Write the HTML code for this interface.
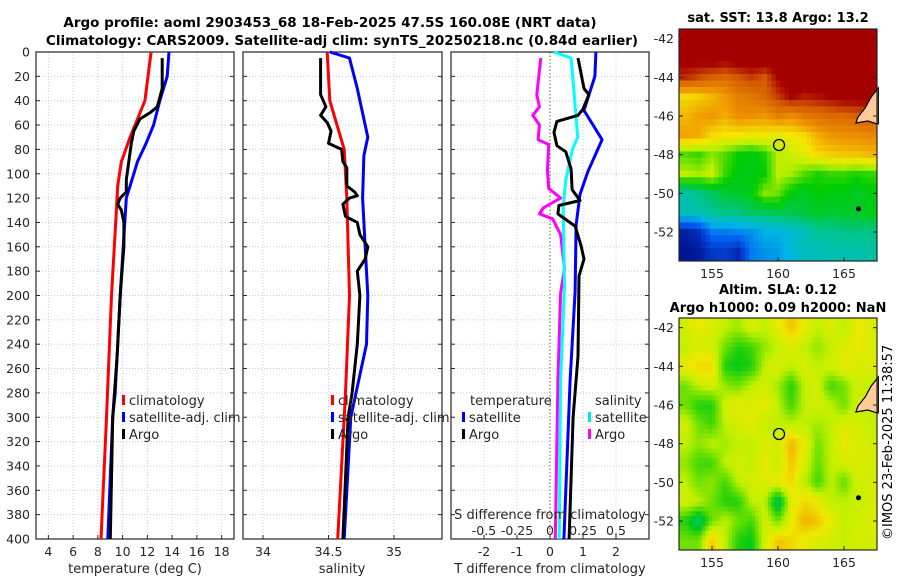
<!DOCTYPE html>
<html><head><meta charset="utf-8"><style>
body{margin:0;background:#fff}
svg{display:block;font-family:"DejaVu Sans","Liberation Sans",sans-serif;fill:#262626}
</style></head><body>
<svg id="c" width="900" height="580" viewBox="0 0 900 580" xmlns="http://www.w3.org/2000/svg">
<text x="330" y="27" text-anchor="middle" font-weight="bold" font-size="13.5" fill="#000">Argo profile: aoml 2903453_68 18-Feb-2025 47.5S 160.08E (NRT data)</text>
<text x="342" y="45" text-anchor="middle" font-weight="bold" font-size="13.5" fill="#000">Climatology: CARS2009. Satellite-adj clim: synTS_20250218.nc (0.84d earlier)</text>
<text x="778" y="22" text-anchor="middle" font-weight="bold" font-size="13" fill="#000">sat. SST: 13.8 Argo: 13.2</text>
<text x="778" y="294" text-anchor="middle" font-weight="bold" font-size="13" fill="#000">Altim. SLA: 0.12</text>
<text x="778" y="312" text-anchor="middle" font-weight="bold" font-size="13" fill="#000">Argo h1000: 0.09 h2000: NaN</text>
<text transform="translate(892,540) rotate(-90)" font-size="13" fill="#000">©IMOS 23-Feb-2025 11:38:57</text>
<g id="g"></g>
</svg>
<script>
// ---------- profile data ----------
const tClimDepth = [0,20,40,55,70,90,110,130,200,300,400];
const tClimVal   = [12.3,12.05,11.8,11.2,10.6,9.9,9.6,9.5,9.1,8.7,8.25];
const tSatDepth  = [0,20,40,60,75,90,110,120,200,280,300,400];
const tSatVal    = [13.75,13.6,13.0,12.5,11.9,11.2,10.6,10.3,9.8,9.4,9.2,8.8];
const tArgoDepth = [5,30,45,50,55,65,75,90,105,115,120,125,130,140,160,180,200,250,300,400];
const tArgoVal   = [13.2,13.2,12.8,12.2,11.4,10.9,10.7,10.5,10.3,10.3,9.8,9.6,9.9,10.1,10.1,9.95,9.8,9.55,9.2,9.0];

const sClimDepth = [0,40,80,120,200,280,400];
const sClimVal   = [34.49,34.51,34.62,34.64,34.66,34.63,34.57];
const sSatDepth  = [0,5,30,70,85,120,160,200,240,280,300,400];
const sSatVal    = [34.51,34.66,34.72,34.80,34.77,34.76,34.78,34.80,34.79,34.71,34.67,34.62];
const sArgoDepth = [5,35,40,45,52,58,65,75,78,80,90,95,110,115,118,120,125,135,140,150,160,170,180,200,240,280,300,400];
const sArgoVal   = [34.44,34.44,34.46,34.48,34.44,34.49,34.52,34.50,34.56,34.60,34.61,34.64,34.64,34.70,34.72,34.66,34.61,34.63,34.72,34.74,34.80,34.78,34.72,34.74,34.72,34.68,34.65,34.61];

const dTSatDepth = [0,20,48,72,98,117,142,197,270,400];
const dTSatVal   = [1.39,1.36,1.03,1.58,1.15,0.91,0.79,0.76,0.61,0.42];
const dTArgoDepth= [5,30,35,47,52,57,66,77,82,96,113,122,126,133,143,159,170,184,250,300,400];
const dTArgoVal  = [0.85,1.03,1.18,1.0,0.85,0.21,0.12,0.21,0.48,0.64,0.67,0.91,0.27,0.24,0.76,0.94,1.03,0.88,0.85,0.7,0.58];
const dSSatDepth = [0,5,31,70,80,105,127,193,270,400];
const dSSatVal   = [0.03,0.16,0.18,0.21,0.17,0.12,0.10,0.11,0.08,0.07];
const dSArgoDepth= [5,35,45,52,60,72,76,97,112,120,128,133,137,150,178,198,270,400];
const dSArgoVal  = [-0.07,-0.10,-0.08,-0.13,-0.08,-0.09,-0.01,-0.02,-0.01,0.08,-0.05,-0.08,0.02,0.08,0.11,0.08,0.06,0.04];

const depthTicks = [0,20,40,60,80,100,120,140,160,180,200,220,240,260,280,300,320,340,360,380,400];
const tTicks = [4,6,8,10,12,14,16,18];
const sTicks = [34,34.5,35];
const dTTicks = [-2,-1,0,1,2];
const dSTicks = [-0.5,-0.25,0,0.25,0.5];
const dSTickLabels = ["-0.5","-0.25","0","0.25","0.5"];

// ---------- map data ----------
const mapLonTicks = [155,160,165];
const mapLatTicks = [-42,-44,-46,-48,-50,-52];
const sstGrid = [
 [16,16,16,16,16,16,16,16,16,16,16,16,16,16,16],
 [15.8,15.8,15.9,15.8,15.9,16,15.9,16,16,16,16,16,16,16,16],
 [15.3,15.1,14.9,14.8,15,15.2,15,15.6,15.8,15.9,16,16,16,16,16],
 [13.6,13.7,13.9,14.2,14.5,14.6,14.8,15.2,15.6,15.4,15.5,15.6,15.8,15.8,15.8],
 [13.9,14.1,14.2,14.0,14.3,14.3,14.2,14.5,14.3,14.6,14.7,14.8,14.8,14.9,15],
 [14.1,14.0,13.6,13.5,13.5,13.4,13.5,13.3,13.5,13.6,14.0,14.2,14.3,14.3,14.4],
 [12.6,12.5,12.8,12.6,12.3,12.2,12.4,13.0,13.1,13.3,13.6,13.7,13.8,13.8,13.9],
 [13.0,12.9,13.1,12.5,12.2,12.2,12.3,13.0,12.9,12.6,12.4,12.5,12.5,12.4,12.5],
 [11.4,11.6,11.8,12.0,12.1,12.2,12.8,12.7,12.2,12.1,12.3,12.2,12.2,12.1,12.2],
 [11.2,11.3,11.5,11.6,11.6,11.8,11.8,11.9,11.9,12.0,12.1,12.0,12.1,12.1,12.2],
 [9.2,9.4,10.3,10.3,10.4,10.5,10.8,10.8,11.0,11.2,11.5,11.5,11.6,11.6,11.6],
 [9.0,9.1,9.5,9.6,9.3,10.3,10.5,10.6,10.9,11.2,11.2,11.3,11.3,11.3,11.4]
];
const slaGrid = [
 [0.02,0.05,0.03,0.0,-0.02,0.03,0.0,0.05,0.1,0.05,0.0,0.03,0.0,0.05,0.03],
 [0.0,0.03,0.02,-0.05,-0.1,-0.08,-0.03,0.0,0.03,0.0,-0.03,0.0,0.03,0.05,0.03],
 [0.05,0.08,0.08,-0.1,-0.12,-0.1,0.0,0.03,0.0,0.03,0.0,0.02,0.05,0.03,0.03],
 [-0.05,0.0,0.02,-0.03,-0.05,0.0,0.02,-0.02,-0.1,0.0,0.02,-0.08,-0.05,0.02,0.0],
 [-0.05,-0.1,-0.1,0.02,0.05,0.03,0.05,0.0,-0.08,0.0,0.02,0.0,-0.05,0.02,0.0],
 [0.02,-0.05,-0.08,0.0,0.02,0.05,0.0,0.0,0.0,0.0,-0.02,0.0,0.03,0.02,0.0],
 [0.0,-0.03,0.0,-0.02,0.0,0.0,0.03,0.02,0.12,0.05,-0.05,0.0,0.05,0.03,0.02],
 [-0.03,-0.08,-0.08,0.0,0.02,0.0,0.05,0.0,0.1,0.03,-0.06,0.0,0.02,0.03,0.02],
 [0.0,-0.05,-0.03,-0.08,0.0,0.02,0.03,0.05,0.08,0.0,-0.08,0.0,-0.06,0.02,0.02],
 [0.02,0.0,-0.05,-0.1,-0.1,0.0,0.0,-0.18,0.03,0.08,0.05,0.0,0.0,0.0,0.02],
 [-0.1,-0.18,-0.05,0.0,-0.05,-0.08,0.02,-0.05,0.05,0.12,0.1,0.05,0.0,0.02,0.03],
 [-0.05,-0.05,0.1,0.0,-0.1,-0.12,0.02,0.1,0.08,0.05,0.03,0.02,0.0,0.02,0.02]
];
const landLon = [167.6,167.05,166.6,166.06,165.9,166.36,166.8,167.5,167.6];
const landLat = [-44.55,-45.02,-45.59,-46.05,-46.36,-46.31,-46.26,-46.41,-46.41];
const argoLon = [160.08];
const argoLat = [-47.5];

// ---------- drawing ----------
const NS='http://www.w3.org/2000/svg';
const G=document.getElementById('g');
function el(tag,attrs,parent){const e=document.createElementNS(NS,tag);for(const k in attrs)e.setAttribute(k,attrs[k]);(parent||G).appendChild(e);return e;}
const yTop=52,yBot=539;
const yD=d=>yTop+d*(yBot-yTop)/400;
const panels=[
 {name:'temperature',x0:36,x1:234,v0:3,v1:19},
 {name:'salinity',x0:243,x1:442,v0:34-20/131,v1:34+179/131},
 {name:'difference',x0:451,x1:649,v0:-3,v1:3}
];
const xs=p=>v=>p.x0+(v-p.v0)*(p.x1-p.x0)/(p.v1-p.v0);
const grid='#c4cbe6';
panels.forEach((p,i)=>{
  const X=xs(p);
  const ticks=i==0?tTicks:i==1?sTicks:dTTicks;
  ticks.forEach(t=>{
    const l=el('line',{x1:X(t),x2:X(t),y1:yTop,y2:yBot,stroke:(i==2&&t==0)?'#556b2f':grid,'stroke-dasharray':(i==2&&t==0)?'1.5,2':'1,2','stroke-width':1});
    
    
    const tk=el('line',{x1:X(t),x2:X(t),y1:yBot,y2:yBot-4,stroke:'#262626'});
    
    
    const lb=el('text',{x:X(t),y:556,'text-anchor':'middle','font-size':12.5});
    lb.textContent=(i==1&&t==34.5)?'34.5':String(t);
    
    
  });
  depthTicks.forEach(d=>{
    const y=yD(d);
    if(d>0&&d<400){const l=el('line',{x1:p.x0,x2:p.x1,y1:y,y2:y,stroke:grid,'stroke-dasharray':'1,2'});
    
    }
    el('line',{x1:p.x0,x2:p.x0+4,y1:y,y2:y,stroke:'#262626'});
    el('line',{x1:p.x1,x2:p.x1-4,y1:y,y2:y,stroke:'#262626'});
    if(i==0){const lb=el('text',{x:30,y:y+4.5,'text-anchor':'end','font-size':12.5});lb.textContent=d;
    
    }
  });
  const r=el('rect',{x:p.x0,y:yTop,width:p.x1-p.x0,height:yBot-yTop,fill:'none',stroke:'#262626','stroke-width':1.2});
  
  
});
function line(pi,depths,vals,color,name,scale){
  const X=xs(panels[pi]);
  const pts=depths.map((d,k)=>X(vals[k]*(scale||1)).toFixed(1)+','+yD(d).toFixed(1)).join(' ');
  const l=el('polyline',{points:pts,fill:'none',stroke:color,'stroke-width':3,'stroke-linejoin':'round'});
  
  
}
line(0,tClimDepth,tClimVal,'#ff0000','temp-climatology-line');
line(0,tSatDepth,tSatVal,'#0000ff','temp-satellite-line');
line(0,tArgoDepth,tArgoVal,'#000','temp-argo-line');
line(1,sClimDepth,sClimVal,'#ff0000','sal-climatology-line');
line(1,sSatDepth,sSatVal,'#0000ff','sal-satellite-line');
line(1,sArgoDepth,sArgoVal,'#000','sal-argo-line');
line(2,dSArgoDepth,dSArgoVal,'#ff00ff','sdiff-argo-line',4);
line(2,dSSatDepth,dSSatVal,'#00ffff','sdiff-satellite-line',4);
line(2,dTSatDepth,dTSatVal,'#0000ff','tdiff-satellite-line');
line(2,dTArgoDepth,dTArgoVal,'#000','tdiff-argo-line');

const X3=xs(panels[2]);
dSTicks.forEach((s,k)=>{
  const lb=el('text',{x:X3(s*4),y:535,'text-anchor':'middle','font-size':12.5});
  lb.textContent=dSTickLabels[k];
  
  
});
function txt(x,y,s,name,anchor,size){const t=el('text',{x:x,y:y,'text-anchor':anchor||'start','font-size':size||13});t.textContent=s;
  
  return t;}
txt(550,519,'S difference from climatology','s-diff-axis-title','middle');
txt(135,573,'temperature (deg C)','temp-axis-title','middle');
txt(342,573,'salinity','salinity-axis-title','middle');
txt(550,573,'T difference from climatology','t-diff-axis-title','middle');
function leg(x,y,color,label,name){
  const b=el('rect',{x:x,y:y-10,width:3,height:10,fill:color});
  
  
  txt(x+7,y,label,name,'start',13);
}
[[122,0],[331,1]].forEach(([x])=>{
  leg(x,405,'#ff0000','climatology','legend-climatology');
  leg(x,422,'#0000ff','satellite-adj. clim','legend-satellite-adj');
  leg(x,439,'#000','Argo','legend-argo');
});
txt(470,405,'temperature','legend-temperature-header');
leg(462,422,'#0000ff','satellite','legend-t-satellite');
leg(462,439,'#000','Argo','legend-t-argo');
txt(595,405,'salinity','legend-salinity-header');
leg(588,422,'#00e5e5','satellite','legend-s-satellite');
leg(588,439,'#ff00ff','Argo','legend-s-argo');

// ---------- maps ----------
function stopCol(stops,v){
  for(let k=0;k<stops.length-1;k++){const [a,ca]=stops[k],[b,cb]=stops[k+1];
    if(v<=b||k==stops.length-2){const t=Math.max(0,Math.min(1,(v-a)/(b-a)));
      return 'rgb('+ca.map((c,j)=>Math.round(c+(cb[j]-c)*t)).join(',')+')';}}
}
const sstStops=[[9,[0,20,150]],[10,[0,90,240]],[10.8,[0,180,230]],[11.5,[0,195,150]],[12.3,[0,205,0]],[13,[190,240,0]],[13.5,[245,230,0]],[14.2,[240,150,0]],[15,[210,90,0]],[15.6,[165,0,0]]];
const slaStops=[[-0.2,[0,200,190]],[-0.12,[0,200,20]],[-0.05,[110,225,0]],[0,[195,240,0]],[0.06,[240,232,0]],[0.15,[240,150,0]]];
function interp(gr,fr,fc){
  const R=gr.length-1,C=gr[0].length-1;
  const r=Math.max(0,Math.min(R,fr)),c=Math.max(0,Math.min(C,fc));
  const r0=Math.min(R-1,Math.floor(r)),c0=Math.min(C-1,Math.floor(c));
  const tr=r-r0,tc=c-c0;
  return gr[r0][c0]*(1-tr)*(1-tc)+gr[r0][c0+1]*(1-tr)*tc+gr[r0+1][c0]*tr*(1-tc)+gr[r0+1][c0+1]*tr*tc;
}
function map(y0,y1,gridData,stops,name,sub){
  const x0=679,x1=877;
  const LX=lon=>x0+(lon-152.5)*(x1-x0)/15;
  const LY=lat=>y0+(-41.5-lat)*(y1-y0)/12;
  const g=el('g',{});
  
  
  const cw=(x1-x0)/15/sub,ch=(y1-y0)/12/sub;
  for(let r=0;r<12*sub;r++)for(let c=0;c<15*sub;c++){
    const v=interp(gridData,(r+0.5)/sub-0.5,(c+0.5)/sub-0.5);
    const cell=el('rect',{x:(x0+c*cw).toFixed(2),y:(y0+r*ch).toFixed(2),width:(cw+0.4).toFixed(2),height:(ch+0.4).toFixed(2),fill:stopCol(stops,v)},g);
    
    
  }
  const land=el('polygon',{points:landLon.map((l,k)=>LX(l).toFixed(1)+','+LY(landLat[k]).toFixed(1)).join(' '),fill:'#ffcc99',stroke:'#000','stroke-width':1.2},g);
  
  
  const isl=el('circle',{cx:LX(166.1),cy:LY(-50.8),r:2.5,fill:'#000'},g);
  
  
  const pt=el('circle',{cx:LX(argoLon[0]),cy:LY(argoLat[0]),r:5.5,fill:'none',stroke:'#000','stroke-width':1.3},g);
  
  
  el('rect',{x:x0,y:y0,width:x1-x0,height:y1-y0,fill:'none',stroke:'#262626','stroke-width':1.2},g);
  mapLatTicks.forEach(l=>{
    const y=LY(l);
    el('line',{x1:x0,x2:x0+4,y1:y,y2:y,stroke:'#262626'},g);
    el('line',{x1:x1,x2:x1-4,y1:y,y2:y,stroke:'#262626'},g);
    const t=el('text',{x:674,y:y+4.5,'text-anchor':'end','font-size':12.5},g);t.textContent=l;
    
    
  });
  mapLonTicks.forEach(l=>{
    const x=LX(l);
    el('line',{x1:x,x2:x,y1:y1,y2:y1-4,stroke:'#262626'},g);
    const t=el('text',{x:x,y:y1+17,'text-anchor':'middle','font-size':12.5},g);t.textContent=l;
    
    
  });
}
map(29,261,sstGrid,sstStops,'sst-map',3);
map(318,550,slaGrid,slaStops,'sla-map',4);
</script>
</body></html>
